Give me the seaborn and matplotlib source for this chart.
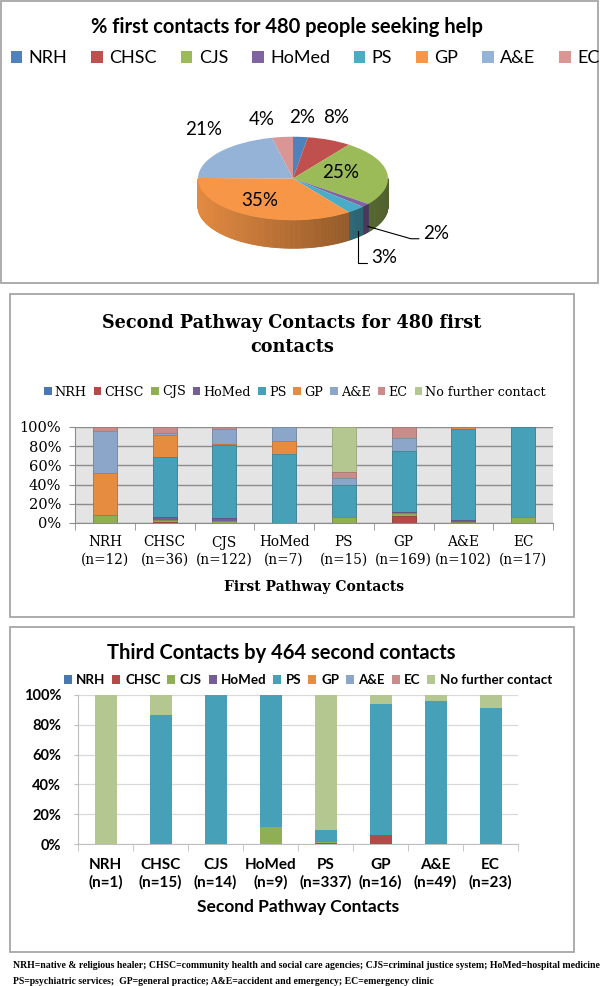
import numpy as np
import pandas as pd
import matplotlib
matplotlib.use("Agg")
import matplotlib.pyplot as plt
import matplotlib.colors as mcolors
from matplotlib.patches import Rectangle, Polygon, Patch
from matplotlib.ticker import PercentFormatter
import seaborn as sns

# ================== data ==================
contacts = ["NRH", "CHSC", "CJS", "HoMed", "PS", "GP", "A&E", "EC"]
series = contacts + ["No further contact"]

# first contacts (n=480)
first_n = [12, 36, 122, 7, 15, 169, 102, 17]
pie_labels = ["2%", "8%", "25%", "2%", "3%", "35%", "21%", "4%"]

# second contacts (n=464)
second_n = [1, 15, 14, 9, 337, 16, 49, 23]

# % of second pathway contacts, one list per series (in order of first contact)
second_pct = {
    "NRH":   [0, 0, 0, 0, 0, 0, 0, 0],
    "CHSC":  [0, 1.5, 0, 0, 0, 7.5, 0, 0],
    "CJS":   [8, 2, 2.5, 0, 6.7, 2.5, 1, 5.9],
    "HoMed": [0, 2.5, 2.8, 0, 0, 1.5, 2, 0],
    "PS":    [0, 63, 75.7, 71.4, 33.3, 64, 95, 94.1],
    "GP":    [44, 22.4, 1, 14.3, 0, 0, 1.5, 0],
    "A&E":   [44, 2.4, 15.5, 14.3, 6.7, 13.5, 0, 0],
    "EC":    [4, 6.2, 2.5, 0, 6.7, 11, 0.5, 0],
    "No further contact": [0, 0, 0, 0, 46.6, 0, 0, 0],
}

# % of third contacts, one list per series (in order of second contact)
third_pct = {
    "NRH":   [0, 0, 0, 0, 0, 0, 0, 0],
    "CHSC":  [0, 0, 0, 0, 0.9, 6.25, 0, 0],
    "CJS":   [0, 0, 0, 11.1, 0.6, 0, 0, 0],
    "HoMed": [0, 0, 0, 0, 0, 0, 0, 0],
    "PS":    [0, 86.7, 100, 88.9, 7.8, 87.5, 95.9, 91.3],
    "GP":    [0, 0, 0, 0, 0, 0, 0, 0],
    "A&E":   [0, 0, 0, 0, 0, 0, 0, 0],
    "EC":    [0, 0, 0, 0, 0, 0, 0, 0],
    "No further contact": [100, 13.3, 0, 0, 90.7, 6.25, 4.1, 8.7],
}

colors = {
    "NRH": "#4F81BD", "CHSC": "#C0504D", "CJS": "#9BBB59", "HoMed": "#8064A2",
    "PS": "#4BACC6", "GP": "#F79646", "A&E": "#95B3D7", "EC": "#D99694",
    "No further contact": "#C3D69B",
}

footnote = ["NRH=native & religious healer; CHSC=community health and social care agencies; "
            "CJS=criminal justice system; HoMed=hospital medicine",
            "PS=psychiatric services;  GP=general practice; A&E=accident and emergency; "
            "EC=emergency clinic"]

# ================== layout helpers ==================
W, H = 600, 986
SANS = ["Lato", "DejaVu Sans"]
SERIF = ["DejaVu Serif"]
fig = plt.figure(figsize=(W / 100, H / 100), dpi=100)


def px_box(l, t, r, b):
    return [l / W, 1 - b / H, (r - l) / W, (b - t) / H]


def ftext(x, y, s, **kw):
    return fig.text(x / W, 1 - y / H, s, **kw)


def frame(l, t, r, b):
    fig.add_artist(Rectangle((l / W, 1 - b / H), (r - l) / W, (b - t) / H,
                             transform=fig.transFigure, fill=False,
                             ec="#A6A6A6", lw=1.3))


def darker(c, f):
    return tuple(np.clip(np.array(mcolors.to_rgb(c)) * f, 0, 1))


def stacked(ax, pct, n, edge):
    df = pd.DataFrame(pct, index=contacts)
    cum = df.cumsum(axis=1)
    xl = [f"{c}\n(n={k})" for c, k in zip(contacts, n)]
    # draw cumulative totals from the top series down so each segment shows
    for s in reversed(series):
        fc = darker(colors[s], 0.93)
        sns.barplot(x=xl, y=cum[s].values, color=fc, saturation=1,
                    width=0.4, errorbar=None, ax=ax,
                    edgecolor=darker(colors[s], 0.78) if edge else "none",
                    linewidth=0.6 if edge else 0, zorder=3)
    ax.set_ylim(0, 100)
    ax.set_xlim(-0.5, len(contacts) - 0.5)
    ax.set_yticks(range(0, 101, 20))
    ax.yaxis.set_major_formatter(PercentFormatter(100, decimals=0))
    ax.set_xticks(np.arange(-0.5, len(contacts), 1), minor=True)
    ax.set_xlabel("")
    ax.set_ylabel("")
    for sp in ["top", "right"]:
        ax.spines[sp].set_visible(False)


def handles_for(names, f=1.0):
    return [Patch(fc=darker(colors[s], f), ec="none") for s in names]


# ================== panel 1: 3-D style pie ==================
frame(1, 1, 598, 283)
ftext(287, 27, "% first contacts for 480 people seeking help", ha="center",
      va="center", fontsize=14.5, fontweight="bold", family=SANS)
fig.legend(handles_for(contacts), contacts, loc="center",
           bbox_to_anchor=(305 / W, 1 - 58 / H), ncol=8, frameon=False,
           prop=dict(family=SANS, size=13), handlelength=0.65,
           handleheight=0.65, handletextpad=0.35, columnspacing=1.32)

ax_pie = fig.add_axes(px_box(103, 105, 483, 280))
pie_colors = [colors[c] for c in contacts]
wedges, _ = ax_pie.pie(first_n, colors=pie_colors, startangle=90,
                       counterclock=False, radius=1,
                       wedgeprops=dict(linewidth=0))
ax_pie.set_aspect("auto")
ax_pie.set_xlim(-2, 2)
ax_pie.set_ylim(-2.43, 1.76)
ax_pie.axis("off")

depth = 0.67
for w, c in zip(wedges, pie_colors):
    ts = np.linspace(w.theta1, w.theta2, int(abs(w.theta2 - w.theta1)) + 2)
    for a, b in zip(ts[:-1], ts[1:]):
        m = np.deg2rad((a + b) / 2)
        if np.sin(m) > 0:
            continue
        ra, rb = np.deg2rad(a), np.deg2rad(b)
        pts = [(np.cos(ra), np.sin(ra)), (np.cos(rb), np.sin(rb)),
               (np.cos(rb), np.sin(rb) - depth), (np.cos(ra), np.sin(ra) - depth)]
        shade = darker(c, 0.72 - 0.2 * np.cos(m))
        ax_pie.add_patch(Polygon(pts, closed=True, fc=shade, ec=shade,
                                 lw=0.6, zorder=0.5))

label_pos = [(0.1, 1.46), (0.45, 1.46), (0.5, 0.14), None, None,
             (-0.35, -0.53), (-0.94, 1.17), (-0.33, 1.41)]
for w, lab, pos in zip(wedges, pie_labels, label_pos):
    if pos is not None:
        ax_pie.text(pos[0], pos[1], lab, ha="center", va="center",
                    fontsize=13.5, family=SANS)

# small slices get leader lines
for idx, tpos, cstyle in [(3, (1.37, -1.32), "angle,angleA=180,angleB=-16,rad=0"),
                          (4, (0.82, -1.9), "angle,angleA=180,angleB=90,rad=0")]:
    w = wedges[idx]
    m = np.deg2rad((w.theta1 + w.theta2) / 2)
    xy = (np.cos(m) * 1.03, np.sin(m) - 0.75 * depth)
    ax_pie.annotate(pie_labels[idx], xy=xy, xytext=tpos, ha="left", va="center",
                    fontsize=13.5, family=SANS,
                    arrowprops=dict(arrowstyle="-", color="black", lw=0.8,
                                    shrinkA=1, shrinkB=0, relpos=(0, 0.2),
                                    connectionstyle=cstyle))

# ================== panel 2: second pathway contacts ==================
frame(10, 294, 574, 617)
ftext(292, 335, "Second Pathway Contacts for 480 first\ncontacts", ha="center",
      va="center", fontsize=12.7, fontweight="bold", family=SERIF,
      linespacing=1.4)
fig.legend(handles_for(series, 0.93), series, loc="center",
           bbox_to_anchor=(295 / W, 1 - 392 / H), ncol=9, frameon=False,
           prop=dict(family=SERIF, size=9.2), handlelength=0.6,
           handleheight=0.6, handletextpad=0.25, columnspacing=0.55)

ax2 = fig.add_axes(px_box(75, 427, 553, 523))
stacked(ax2, second_pct, first_n, edge=True)
ax2.set_facecolor("#E4E4E4")
ax2.set_axisbelow(True)
ax2.grid(axis="y", color="#8C8C8C", lw=1.0)
for sp in ["left", "bottom"]:
    ax2.spines[sp].set_color("#8C8C8C")
ax2.tick_params(axis="y", length=4, color="#8C8C8C", pad=6, labelsize=10.5)
ax2.tick_params(axis="x", which="major", length=0, pad=9, labelsize=9.8)
ax2.tick_params(axis="x", which="minor", length=5, color="#8C8C8C")
for t in ax2.get_xticklabels() + ax2.get_yticklabels():
    t.set_family(SERIF)
    t.set_linespacing(1.3)
ftext(314, 587, "First Pathway Contacts", ha="center", va="center",
      fontsize=10, fontweight="bold", family=SERIF)

# ================== panel 3: third contacts ==================
frame(10, 627, 574, 952)
ftext(281, 653, "Third Contacts by 464 second contacts", ha="center",
      va="center", fontsize=14.5, fontweight="bold", family=SANS)
fig.legend(handles_for(series, 0.93), series, loc="center",
           bbox_to_anchor=(308 / W, 1 - 680 / H), ncol=9, frameon=False,
           prop=dict(family=SANS, size=9.6, weight="bold"), handlelength=0.6,
           handleheight=0.6, handletextpad=0.35, columnspacing=0.5)

ax3 = fig.add_axes(px_box(78, 695, 518, 844))
stacked(ax3, third_pct, second_n, edge=False)
ax3.set_facecolor("white")
ax3.set_axisbelow(True)
ax3.grid(axis="y", color="#D9D9D9", lw=0.9)
for sp in ["left", "bottom"]:
    ax3.spines[sp].set_color("#BFBFBF")
ax3.tick_params(axis="y", length=3, color="#BFBFBF", pad=9, labelsize=10.5)
ax3.tick_params(axis="x", which="major", length=0, pad=10, labelsize=11)
ax3.tick_params(axis="x", which="minor", length=5, color="#BFBFBF")
for t in ax3.get_xticklabels() + ax3.get_yticklabels():
    t.set_family(SANS)
    t.set_fontweight("bold")
    t.set_linespacing(1.3)
ftext(298, 907, "Second Pathway Contacts", ha="center", va="center",
      fontsize=12.5, fontweight="bold", family=SANS)

# ================== footnote ==================
ftext(13, 966, footnote[0], ha="left", va="center", fontsize=7,
      fontweight="bold", family=["Liberation Serif"])
ftext(13, 982, footnote[1], ha="left", va="center", fontsize=7,
      fontweight="bold", family=["Liberation Serif"])

fig.savefig("out.png", dpi=100)
